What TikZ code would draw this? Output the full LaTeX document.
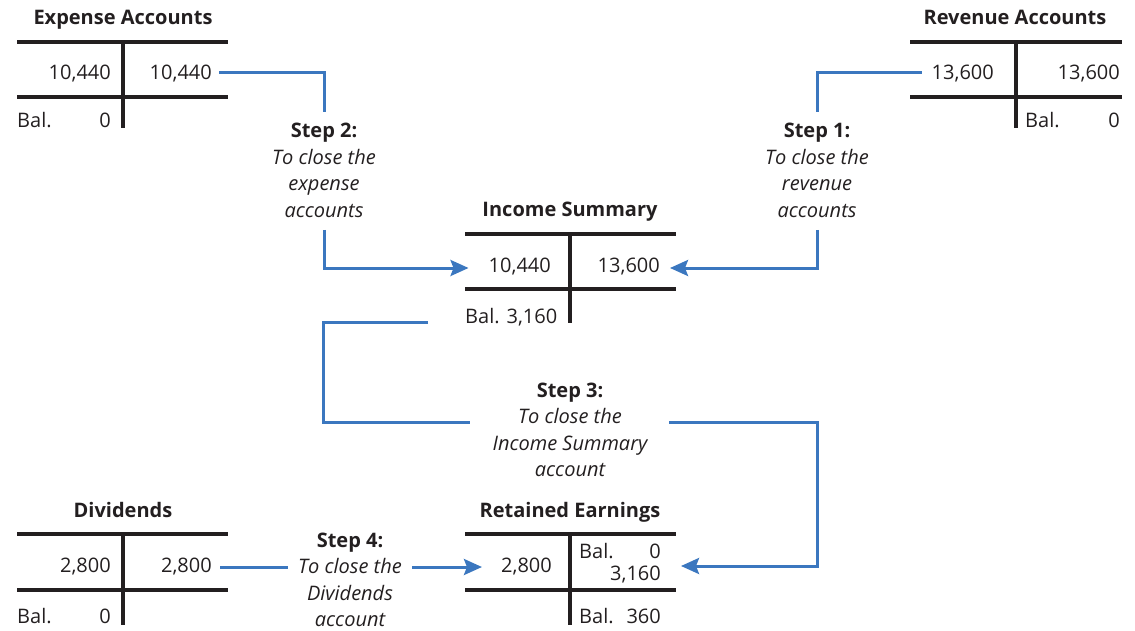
\documentclass[tikz,border=0pt]{standalone}
\usepackage{fontspec}
\setmainfont{Open Sans}
\usetikzlibrary{arrows.meta}
\definecolor{flowblue}{HTML}{3B77BF}
\definecolor{ink}{HTML}{231F20}
\begin{document}
\begin{tikzpicture}[x=1pt,y=-1pt,
  tline/.style={draw=ink,line width=3.6pt},
  flow/.style={draw=flowblue,line width=3pt},
  flowarrow/.style={flow,-{Stealth[length=18pt,width=16pt,inset=3pt]}},
  lbl/.style={inner sep=0pt,font=\fontsize{20}{24}\selectfont,text=ink},
  num/.style={lbl,anchor=base east},
  numl/.style={lbl,anchor=base west},
  acct/.style={lbl,anchor=base,font=\fontsize{20}{24}\selectfont\bfseries},
  stephead/.style={acct},
  stepline/.style={lbl,anchor=base,font=\fontsize{20}{24}\selectfont\itshape},
]
\useasboundingbox (0,0) rectangle (1135,631);

% ---------- Expense Accounts ----------
\node[acct] (expT) at (123,25) {Expense Accounts};
\draw[tline] (17,42) -- (228,42);
\draw[tline] (17,97) -- (228,97);
\draw[tline] (123,40.2) -- (123,128);
\node[num]  (expDr)   at (111,80)  {10,440};
\node[num]  (expCr)   at (212,80)  {10,440};
\node[numl] (expBal)  at (17,128)  {Bal.};
\node[num]  (expBalV) at (111,128) {0};

% ---------- Revenue Accounts ----------
\node[acct] (revT) at (1015,25) {Revenue Accounts};
\draw[tline] (910,42) -- (1122,42);
\draw[tline] (910,97) -- (1122,97);
\draw[tline] (1016,40.2) -- (1016,128);
\node[num]  (revDr)   at (994,80)   {13,600};
\node[num]  (revCr)   at (1120,80)  {13,600};
\node[numl] (revBal)  at (1025,128) {Bal.};
\node[num]  (revBalV) at (1120,128) {0};

% ---------- Income Summary ----------
\node[acct] (incT) at (570,217) {Income Summary};
\draw[tline] (465,234) -- (676,234);
\draw[tline] (465,289) -- (676,289);
\draw[tline] (570,232.2) -- (570,323);
\node[num]  (incDr)  at (551,272) {10,440};
\node[num]  (incCr)  at (660,272) {13,600};
\node[numl] (incBal) at (465,323) {Bal. 3,160};

% ---------- Retained Earnings ----------
\node[acct] (reT) at (570,517) {Retained Earnings};
\draw[tline] (465,534) -- (676,534);
\draw[tline] (465,590) -- (676,590);
\draw[tline] (570,532.2) -- (570,625);
\node[num]  (reDr)    at (552,572) {2,800};
\node[numl] (reBal)   at (579,558) {Bal.};
\node[num]  (reOpen)  at (661,558) {0};
\node[num]  (reInc)   at (661,580) {3,160};
\node[numl] (reBal2)  at (579,623) {Bal.};
\node[num]  (reBalV)  at (661,623) {360};

% ---------- Dividends ----------
\node[acct] (divT) at (123,517) {Dividends};
\draw[tline] (17,534) -- (228,534);
\draw[tline] (17,590) -- (228,590);
\draw[tline] (123,532.2) -- (123,625);
\node[num]  (divDr)   at (111,572) {2,800};
\node[num]  (divCr)   at (212,572) {2,800};
\node[numl] (divBal)  at (17,623)  {Bal.};
\node[num]  (divBalV) at (111,623) {0};

% ---------- Step captions ----------
\node[stephead] (s1a) at (817,138)   {Step 1:};
\node[stepline] (s1b) at (817,164.5) {To close the};
\node[stepline] (s1c) at (817,191)   {revenue};
\node[stepline] (s1d) at (817,217.5) {accounts};

\node[stephead] (s2a) at (324,138)   {Step 2:};
\node[stepline] (s2b) at (324,164.5) {To close the};
\node[stepline] (s2c) at (324,191)   {expense};
\node[stepline] (s2d) at (324,217.5) {accounts};

\node[stephead] (s3a) at (570,397)   {Step 3:};
\node[stepline] (s3b) at (570,423.5) {To close the};
\node[stepline] (s3c) at (570,450)   {Income Summary};
\node[stepline] (s3d) at (570,476.5) {account};

\node[stephead] (s4a) at (350,547)   {Step 4:};
\node[stepline] (s4b) at (350,573.5) {To close the};
\node[stepline] (s4c) at (350,600)   {Dividends};
\node[stepline] (s4d) at (350,626.5) {account};

% ---------- Closing-entry flows ----------
% Step 1: revenue accounts into Income Summary
\coordinate (s1top) at (817,112);
\coordinate (s1bot) at (817,230);
\draw[flow] ([xshift=-10pt]revDr.west |- 0,73) -| (s1top);
\draw[flowarrow] (s1bot) |- ([xshift=10pt]incCr.east |- 0,268);

% Step 2: expense accounts into Income Summary
\coordinate (s2top) at (324,112);
\coordinate (s2bot) at (324,230);
\draw[flow] ([xshift=7pt]expCr.east |- 0,73) -| (s2top);
\draw[flowarrow] (s2bot) |- ([xshift=-20pt]incDr.west |- 0,268);

% Step 3: Income Summary balance into Retained Earnings
\coordinate (s3start) at (428,322);
\coordinate (s3left)  at (470,422);
\coordinate (s3right) at (669,422);
\draw[flow] (s3start) -- (323,322) |- (s3left);
\draw[flowarrow] (s3right) -| (817,566) -- ([xshift=20pt]reInc.east |- 0,566);

% Step 4: Dividends into Retained Earnings
\coordinate (s4left)  at (288,567);
\coordinate (s4right) at (412,567);
\draw[flow] ([xshift=8pt]divCr.east |- 0,567) -- (s4left);
\draw[flowarrow] (s4right) -- ([xshift=-19pt]reDr.west |- 0,567);
\end{tikzpicture}
\end{document}
